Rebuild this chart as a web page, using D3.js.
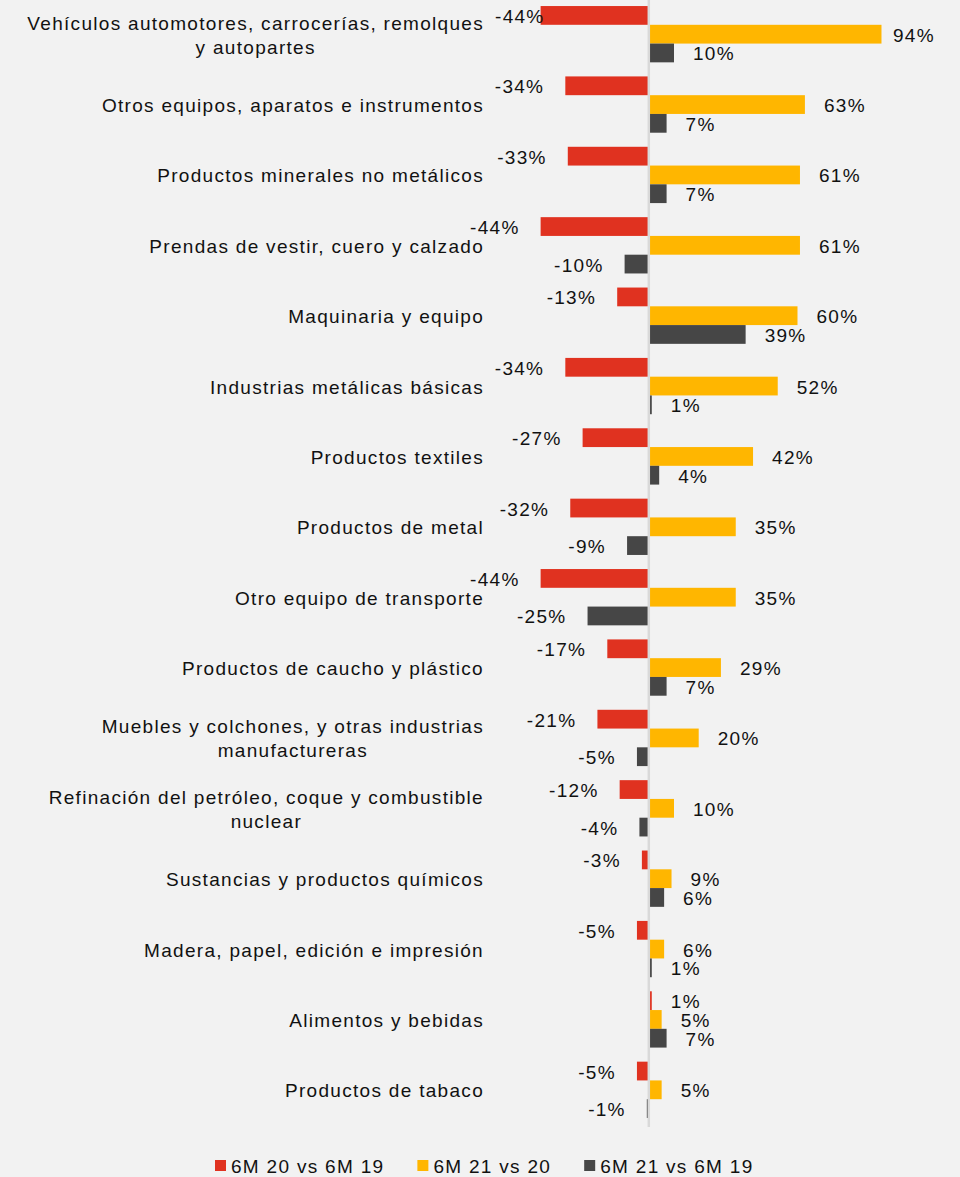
<!DOCTYPE html>
<html>
<head>
<meta charset="utf-8">
<script src="https://cdn.jsdelivr.net/npm/d3@7"></script>
<style>
  html, body { margin: 0; padding: 0; background: #F2F2F2; }
  svg { display: block; }
  text { font-family: "Liberation Sans", Arial, sans-serif; fill: #111; }
</style>
</head>
<body>
<svg id="chart" width="960" height="1177"></svg>
<script>
const categories = [
  "Vehículos automotores, carrocerías, remolques y autopartes",
  "Otros equipos, aparatos e instrumentos",
  "Productos minerales no metálicos",
  "Prendas de vestir, cuero y calzado",
  "Maquinaria y equipo",
  "Industrias metálicas básicas",
  "Productos textiles",
  "Productos de metal",
  "Otro equipo de transporte",
  "Productos de caucho y plástico",
  "Muebles y colchones, y otras industrias manufactureras",
  "Refinación del petróleo, coque y combustible nuclear",
  "Sustancias y productos químicos",
  "Madera, papel, edición e impresión",
  "Alimentos y bebidas",
  "Productos de tabaco"
];
const seriesNames = ["6M 20 vs 6M 19", "6M 21 vs 20", "6M 21 vs 6M 19"];
const s20vs19 = [-44, -34, -33, -44, -13, -34, -27, -32, -44, -17, -21, -12, -3, -5, 1, -5];
const s21vs20 = [94, 63, 61, 61, 60, 52, 42, 35, 35, 29, 20, 10, 9, 6, 5, 5];
const s21vs19 = [10, 7, 7, -10, 39, 1, 4, -9, -25, 7, -5, -4, 6, 1, 7, -1];
const seriesColors = ["#E03220", "#FFB600", "#464646"];

const seriesValues = [s20vs19, s21vs20, s21vs19];
const svg = d3.select("#chart");

const zeroX = 649.3;
const x = d3.scaleLinear().domain([-50, 100]).range([zeroX - 123.5, zeroX + 247]);
const y = d3.scaleBand().domain(categories).range([-1, 1125]).paddingInner(0.2).paddingOuter(0.1);
const ySub = d3.scaleBand().domain(seriesNames).range([0, y.bandwidth()]);

const FONT = 19;
const LS = 1.3;

const rows = [];
categories.forEach((c, i) => {
  seriesNames.forEach((s, j) => rows.push({ c, i, s, j, v: seriesValues[j][i] }));
});

// bars
svg.append("g").selectAll("rect")
  .data(rows)
  .join("rect")
  .attr("x", d => Math.min(x(0), x(d.v)))
  .attr("width", d => Math.abs(x(d.v) - x(0)))
  .attr("y", d => y(d.c) + ySub(d.s))
  .attr("height", ySub.bandwidth())
  .attr("fill", d => seriesColors[d.j]);

// zero line
svg.append("line")
  .attr("x1", x(0) - 0.5).attr("x2", x(0) - 0.5)
  .attr("y1", 0).attr("y2", 1127)
  .attr("stroke", "#D9D9D9").attr("stroke-width", 2.5);

// category labels (wrapped)
const maxW = 473;
const catG = svg.append("g");
const catBoxes = [];
categories.forEach(c => {
  const t = catG.append("text")
    .attr("text-anchor", "end")
    .style("font-size", FONT + "px")
    .style("letter-spacing", LS + "px");
  const words = c.split(" ");
  const lines = [];
  let line = [];
  const probe = catG.append("text").style("font-size", FONT + "px").style("letter-spacing", LS + "px");
  words.forEach(w => {
    const test = line.concat([w]).join(" ");
    probe.text(test);
    if (probe.node().getComputedTextLength() > maxW && line.length) {
      lines.push(line.join(" "));
      line = [w];
    } else {
      line.push(w);
    }
  });
  lines.push(line.join(" "));
  probe.remove();
  const cy = y(c) + y.bandwidth() / 2 + 1;
  const lh = 24;
  lines.forEach((l, k) => {
    const dy = cy + (k - (lines.length - 1) / 2) * lh;
    t.append("tspan").attr("x", 484).attr("y", dy).attr("dominant-baseline", "central").text(l);
  });
  const spans = t.selectAll("tspan").nodes();
  const w0 = spans[0].getComputedTextLength();
  const center = 484 - w0 / 2;
  for (let k = 1; k < spans.length; k++) {
    d3.select(spans[k]).attr("x", center).attr("text-anchor", "middle");
  }
  spans.forEach(sp => catBoxes.push(sp.getBBox()));
});

// value labels
const vl = svg.append("g").selectAll("text")
  .data(rows)
  .join("text")
  .attr("x", d => d.v >= 0 ? Math.min(x(d.v) + 19, 893) : x(d.v) - 21)
  .attr("y", d => y(d.c) + ySub(d.s) + ySub.bandwidth() / 2 + 1)
  .attr("dominant-baseline", "central")
  .attr("text-anchor", d => d.v >= 0 ? "start" : "end")
  .style("font-size", FONT + "px")
  .style("letter-spacing", LS + "px")
  .text(d => d.v + "%");

// keep negative value labels clear of category labels
vl.each(function(d) {
  if (d.v >= 0) return;
  const b = this.getBBox();
  const hit = catBoxes.some(cb => b.x < cb.x + cb.width + 4 &&
    b.y < cb.y + cb.height - 4 && b.y + b.height - 4 > cb.y);
  if (hit) {
    d3.select(this).attr("text-anchor", "start").attr("x", 495);
  }
});

// legend
const legend = svg.append("g");
let lx = 215;
seriesNames.forEach((s, j) => {
  legend.append("rect")
    .attr("x", lx).attr("y", 1160).attr("width", 11).attr("height", 11)
    .attr("fill", seriesColors[j]);
  const tt = legend.append("text")
    .attr("x", lx + 16).attr("y", 1166)
    .attr("dominant-baseline", "central")
    .style("font-size", FONT + "px")
    .style("letter-spacing", LS + "px")
    .text(s);
  lx = lx + 16 + tt.node().getComputedTextLength() + 33;
});
</script>
</body>
</html>
